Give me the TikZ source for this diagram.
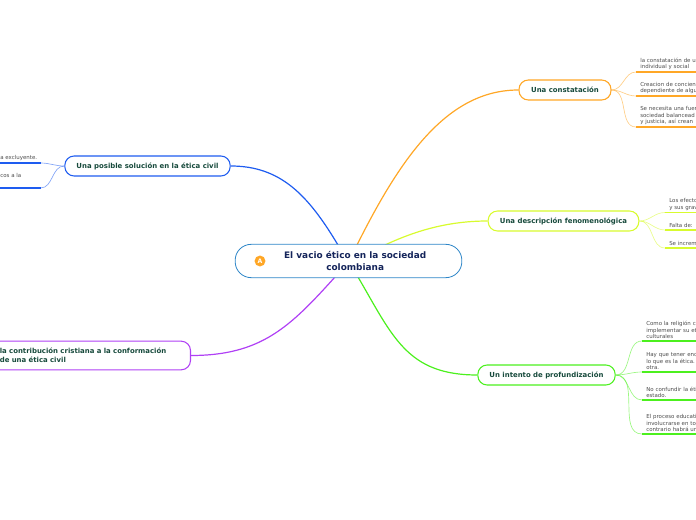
\documentclass[tikz,border=0pt]{standalone}
\usepackage{fontspec}
\setmainfont{DejaVu Sans}
\usetikzlibrary{arrows.meta,positioning,calc}
\definecolor{conOr}{HTML}{FFA726}
\definecolor{desYe}{HTML}{D8FB2E}
\definecolor{proGr}{HTML}{4CF01E}
\definecolor{solBl}{HTML}{1E5CF0}
\definecolor{criPu}{HTML}{B040F5}
\definecolor{rootBl}{HTML}{2E86C8}
\definecolor{nameGr}{HTML}{174A3C}
\definecolor{nameBl}{HTML}{14245A}
\begin{document}
\begin{tikzpicture}[x=0.75pt,y=-0.75pt,font=\fontsize{4.9}{6.2}\selectfont,
 root/.style={draw=rootBl,fill=white,rounded corners=12pt,line width=.6pt,minimum width=170pt,minimum height=25pt,align=center,text=nameBl,font=\bfseries\fontsize{6.7}{8.8}\selectfont},
 branch/.style={draw=#1,fill=white,rounded corners=7pt,line width=.8pt,minimum height=15pt,align=center,inner sep=2pt,text depth=0pt,text=nameGr,font=\bfseries\fontsize{5.2}{6.6}\selectfont},
 leaf/.style={anchor=south west,text width=#1,align=left,inner xsep=3pt,inner ysep=1.4pt,text=black!70,font=\fontsize{4.1}{4.9}\selectfont},
 link/.style={line width=.5pt,opacity=.55},
 bar/.style={line width=1.2pt}]
\useasboundingbox (0,0) rectangle (696,520);
\clip (0,0) rectangle (696,520);
\coordinate (rootor) at (357,245);
\coordinate (rootye) at (385,245);
\coordinate (rootgr) at (358,277);
\coordinate (rootbl) at (338,245);
\coordinate (rootpu) at (335,277);
% branches
\node[branch=conOr,minimum width=69pt] (con) at (565,90) {Una constatación};
\node[branch=desYe,minimum width=113pt] (des) at (563.5,221) {Una descripción fenomenológica};
\node[branch=proGr,minimum width=103pt] (pro) at (546.5,375) {Un intento de profundización};
\node[branch=solBl,minimum width=124pt] (sol) at (147.5,166) {Una posible solución en la ética civil};
\node[branch=criPu,text width=128pt,inner xsep=15pt,align=left,text depth=,minimum height=21.5pt,anchor=east] (cri) at (191,355.5) {la contribución cristiana a la conformación\\de una ética civil};
% main links
\draw[conOr,line width=.9pt] (rootor) .. controls +(45,-90) and +(-70,0) .. (con.west);
\draw[desYe,line width=.9pt] (rootye) .. controls +(30,-14) and +(-40,0) .. (des.west);
\draw[proGr,line width=.9pt] (rootgr) .. controls +(35,60) and +(-70,0) .. (pro.west);
\draw[solBl,line width=.9pt] (rootbl) .. controls +(-30,-50) and +(50,0) .. (sol.east);
\draw[criPu,line width=.9pt] (rootpu) .. controls +(-45,50) and +(70,0) .. (cri.east);
% root
\node[root] (cen) at (348.5,261) {\hspace*{10pt}El vacio ético en la sociedad\\\hspace*{10pt}colombiana};
\node[circle,fill=conOr,minimum size=8.2pt,inner sep=0pt,text=white,font=\bfseries\fontsize{4.6}{5}\selectfont] (ico) at (260,261) {A};
% leaves right
\node[leaf=70pt] (c1) at (636,72) {la constatación de u\\individual y social};
\node[leaf=70pt] (c2) at (636,96) {Creacion de concien\\dependiente de algu};
\node[leaf=70pt] (c3) at (636,127) {Se necesita una fuer\\sociedad balancead\\y justicia, así crean};
\node[leaf=40pt] (d1) at (665,212.5) {Los efecto\\y sus grav};
\node[leaf=40pt] (d2) at (665,230) {Falta de:};
\node[leaf=40pt] (d3) at (665,248) {Se increm};
\node[leaf=60pt] (p1) at (642,341) {Como la religión c\\implementar su et\\culturales};
\node[leaf=60pt] (p2) at (642,372) {Hay que tener enc\\lo que es la ética.\\otra.};
\node[leaf=60pt] (p3) at (642,400) {No confundir la éti\\estado.};
\node[leaf=60pt] (p4) at (642,434) {El proceso educati\\involucrarse en to\\contrario habrá un};
% leaves left
\node[leaf=30pt,inner xsep=0pt] (s1) at (0,163) {a excluyente.};
\node[leaf=30pt,inner xsep=0pt,inner ysep=7.4pt] (s2) at (0,188) {cos a la};
\foreach \n in {c1,c2,c3}{\draw[conOr,link] (con.east) to[out=0,in=180] (\n.south west);}
\foreach \n in {d1,d2,d3}{\draw[desYe,link] (des.east) to[out=0,in=180] (\n.south west);}
\foreach \n in {p1,p2,p3,p4}{\draw[proGr,link] (pro.east) to[out=0,in=180] (\n.south west);}
\foreach \n in {s1,s2}{\draw[solBl,link] (sol.west) to[out=180,in=0] (\n.south east);}
\foreach \n/\c in {c1/conOr,c2/conOr,c3/conOr,d1/desYe,d2/desYe,d3/desYe,p1/proGr,p2/proGr,p3/proGr,p4/proGr,s1/solBl,s2/solBl}{\draw[\c,bar] (\n.south west)--(\n.south east);}
\end{tikzpicture}
\end{document}
